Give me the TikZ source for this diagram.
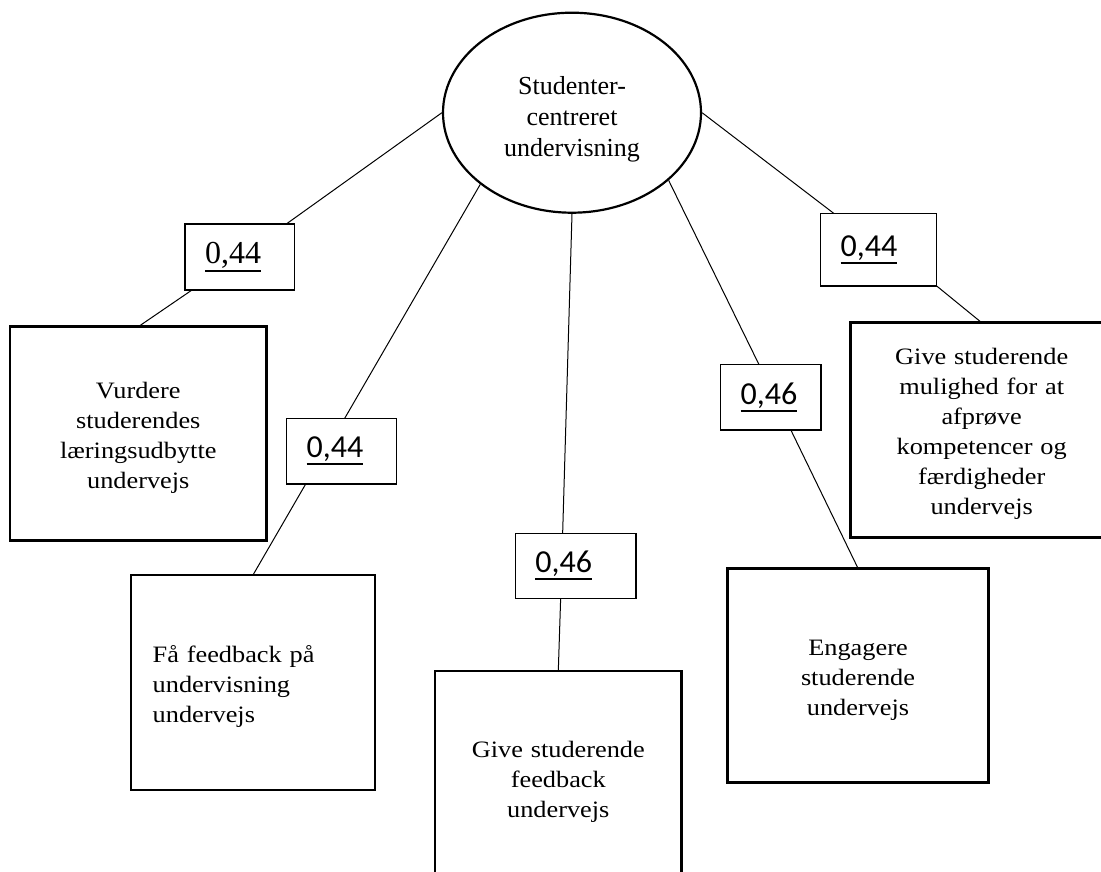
\documentclass[tikz,border=0pt]{standalone}
\usepackage{fontspec}
\setmainfont{Liberation Serif}
\newfontfamily\boxfont[FakeStretch=1.12]{Liberation Serif}
\newfontfamily\numfont{Carlito}
\usepackage{tikz}
\usetikzlibrary{positioning,shapes.geometric}
\newcommand{\wunder}[1]{\vtop{\hbox{#1}\kern1.5pt\hrule height 2pt}}

\begin{document}
\begin{tikzpicture}[x=1pt,y=-1pt,
    outcome/.style={draw,rectangle,line width=2.6pt,inner sep=10pt,outer sep=0pt,align=center,font=\boxfont\fontsize{23.5}{30}\selectfont,execute at begin node={\rule{0pt}{24pt}}},
    weight/.style={draw,rectangle,line width=1.3pt,anchor=north west,inner xsep=20pt,inner ysep=0pt,outer sep=0pt,align=left,font=\numfont\fontsize{32}{38}\selectfont},
    link/.style={line width=1pt}]
    \clip (0,0) rectangle (1101,871);
    \node[draw,ellipse,line width=2.2pt,minimum width=258pt,minimum height=200pt,inner sep=0pt,align=center,font=\fontsize{26}{31}\selectfont] (root) at (572,112.7) {\rule{0pt}{31pt}Studenter-\\centreret\\undervisning};

    \node[outcome,minimum width=256.7pt,minimum height=214pt,text width=236.7pt] (vurdere) at (138.3,433.7) {Vurdere\\studerendes\\læringsudbytte\\undervejs};
    \node[outcome,minimum width=244pt,minimum height=215pt,inner xsep=21.7pt,text width=200.6pt,align=left] (faafb) at (253,682.5) {Få feedback på\\undervisning\\undervejs};
    \node[outcome,minimum width=246.7pt,minimum height=214pt,text width=226.7pt] (givefb) at (558.3,777.8) {Give studerende\\feedback\\undervejs};
    \node[outcome,minimum width=261.4pt,minimum height=214.4pt,text width=241.4pt] (engagere) at (858,675.5) {Engagere\\studerende\\undervejs};
    \node[outcome,minimum width=262pt,minimum height=214.6pt,text width=242pt] (afproeve) at (981.7,430) {Give studerende\\mulighed for at\\afprøve\\kompetencer og\\færdigheder\\undervejs};

    \node[weight,minimum height=66pt,text width=69.3pt,font=\rmfamily\fontsize{32}{38}\selectfont] (w1) at (185,224) {\wunder{0,44}};
    \node[weight,minimum height=65.7pt,text width=70pt] (w2) at (286.7,418.3) {\wunder{0,44}};
    \node[weight,minimum height=65pt,text width=80.7pt] (w3) at (515.3,533.3) {\wunder{0,46}};
    \node[weight,minimum height=65.7pt,text width=60.3pt] (w4) at (720.7,364.3) {\wunder{0,46}};
    \node[weight,minimum height=72.7pt,text width=76pt] (w5) at (820.7,213.3) {\wunder{0,44}};

    \draw[link] (root.west) -- ([xshift=-8pt]w1.north east);
    \draw[link] ([xshift=7pt]w1.south west) -- (vurdere.north);
    \draw[link] (root.218) -- ([xshift=3pt]w2.north);
    \draw[link] ([xshift=19pt]w2.south west) -- (faafb.north);
    \draw[link] (root.south) -- ([xshift=-13pt]w3.north);
    \draw[link] ([xshift=-15pt]w3.south) -- (givefb.north);
    \draw[link] (root.-35) -- ([xshift=-12pt]w4.north);
    \draw[link] ([xshift=20pt]w4.south) -- (engagere.north);
    \draw[link] (root.east) -- ([xshift=13pt]w5.north west);
    \draw[link] (w5.south east) -- (afproeve.north);
\end{tikzpicture}
\end{document}
